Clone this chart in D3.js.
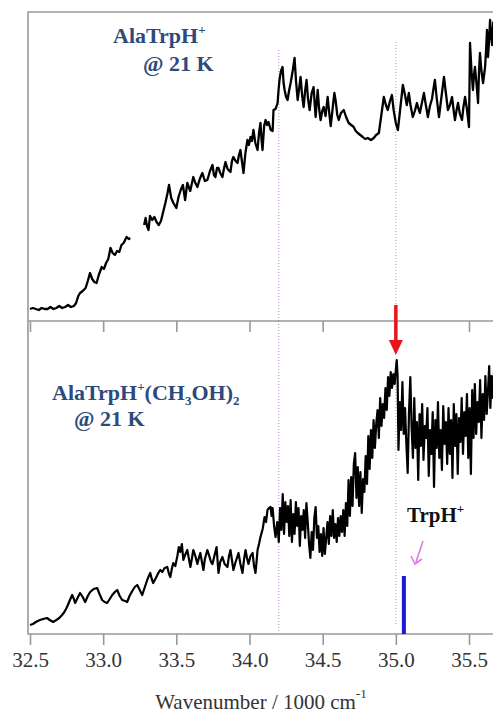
<!DOCTYPE html>
<html>
<head>
<meta charset="utf-8">
<script src="https://cdn.jsdelivr.net/npm/d3@7"></script>
<style>
  body { margin: 0; background: #fff; }
  svg { display: block; }
  text { font-family: "Liberation Serif", "Times New Roman", serif; }
</style>
</head>
<body>
<div id="wrapper"></div>
<script>
// tick labels (wavenumber / 1000 cm-1)
var tickValues = [32.5, 33.0, 33.5, 34.0, 34.5, 35.0, 35.5];
var markerLines = [34.2, 35.0];   // dotted guides
var redArrowAt = 35.0;
var trpBarAt = 35.055, trpBarHeight = 58;

// AlaTrpH+ @ 21 K  (arbitrary intensity units, null = gap in trace)
var topWn = [32.500,32.520,32.540,32.560,32.580,32.600,32.620,32.640,32.660,32.680,32.700,32.720,32.740,32.760,32.780,32.800,
  32.815,32.830,32.842,32.860,32.880,32.895,32.910,32.925,32.940,32.955,32.970,32.990,33.005,33.020,33.035,33.050,33.065,33.080,
  33.095,33.110,33.125,33.140,33.160,33.175,33.185,33.200,33.280,33.290,33.300,33.310,33.320,33.335,33.350,33.365,33.380,33.395,
  33.410,33.425,33.440,33.450,33.465,33.480,33.500,33.515,33.530,33.545,33.560,33.575,33.595,33.616,33.630,33.644,33.660,33.678,
  33.695,33.712,33.730,33.747,33.757,33.767,33.778,33.788,33.800,33.815,33.825,33.836,33.850,33.870,33.880,33.890,33.905,33.918,
  33.928,33.938,33.948,33.959,33.972,33.986,33.996,34.007,34.017,34.027,34.040,34.055,34.065,34.075,34.082,34.089,34.100,34.110,
  34.120,34.130,34.145,34.158,34.164,34.178,34.192,34.198,34.205,34.215,34.226,34.233,34.240,34.250,34.260,34.270,34.281,34.295,
  34.308,34.318,34.329,34.339,34.349,34.360,34.370,34.380,34.390,34.400,34.411,34.425,34.438,34.445,34.452,34.460,34.466,34.476,
  34.486,34.497,34.507,34.520,34.534,34.545,34.555,34.570,34.580,34.589,34.600,34.610,34.625,34.644,34.660,34.678,34.695,34.712,
  34.726,34.740,34.757,34.774,34.790,34.808,34.830,34.849,34.865,34.884,34.900,34.918,34.932,34.945,34.960,34.973,34.986,35.000,
  35.014,35.030,35.048,35.060,35.075,35.089,35.100,35.116,35.130,35.144,35.155,35.164,35.178,35.192,35.205,35.219,35.233,35.247,
  35.257,35.267,35.280,35.295,35.310,35.329,35.342,35.356,35.370,35.384,35.394,35.404,35.414,35.425,35.438,35.452,35.462,35.473,
  35.486,35.500,35.507,35.517,35.527,35.534,35.541,35.552,35.562,35.568,35.575,35.585,35.596,35.603,35.610,35.617,35.623,35.630,
  35.637,35.644,35.651,35.658,35.665,35.671];
var topInt = [12,13,12,11,13,12,12,14,12,13,15,13,14,16,14,15,
  18,25,28,30,33,40,48,42,39,38,46,54,52,58,62,73,68,66,
  70,69,76,78,84,82,83,null,96,103,95,91,105,101,104,99,96,100,
  109,118,128,136,123,118,113,124,131,136,121,138,130,144,138,134,142,148,
  140,141,150,156,146,144,153,153,148,144,152,159,152,149,160,164,160,158,
  166,171,160,148,168,181,176,184,180,191,178,171,188,198,182,171,195,201,
  196,199,191,190,211,212,218,230,241,250,254,238,231,224,221,230,238,250,
  263,240,221,232,244,225,214,230,241,222,211,228,234,218,204,220,231,212,
  201,210,214,205,224,208,195,215,228,220,206,201,208,211,204,198,196,194,
  190,188,186,184,182,183,181,183,186,188,205,224,216,211,220,226,210,198,
  191,212,236,228,216,228,216,204,210,218,212,208,218,228,216,204,215,222,
  232,241,222,204,222,244,228,211,216,224,212,201,210,218,207,201,214,224,
  212,194,278,250,231,246,254,236,218,248,268,250,238,246,254,272,291,264,
  280,301,285,276,298,300];

// AlaTrpH+(CH3OH)2 @ 21 K
var botWn = [32.500,32.520,32.540,32.568,32.590,32.616,32.635,32.658,32.680,32.700,32.719,32.735,32.753,32.770,32.788,32.800,
  32.808,32.825,32.842,32.860,32.877,32.895,32.911,32.935,32.959,32.975,32.993,33.010,33.027,33.045,33.062,33.080,33.096,33.113,
  33.130,33.150,33.164,33.180,33.199,33.216,33.233,33.250,33.267,33.285,33.301,33.312,33.322,33.332,33.342,33.360,33.377,33.390,
  33.404,33.420,33.438,33.450,33.459,33.469,33.479,33.493,33.507,33.517,33.527,33.538,33.548,33.560,33.575,33.585,33.596,33.606,
  33.616,33.630,33.644,33.654,33.664,33.675,33.685,33.695,33.712,33.725,33.737,33.747,33.760,33.775,33.788,33.800,33.815,33.830,
  33.849,33.860,33.870,33.880,33.890,33.905,33.925,33.938,33.952,33.963,33.973,33.983,33.993,34.007,34.021,34.031,34.041,34.048,
  34.055,34.065,34.075,34.090,34.103,34.113,34.123,34.134,34.144,34.151,34.158,34.168,34.178,34.190,
  34.200,34.209,34.218,34.227,34.236,34.245,34.254,34.263,34.272,34.281,34.290,34.299,34.308,34.317,34.326,34.335,34.344,34.353,
  34.362,34.371,34.380,34.389,34.398,34.407,34.416,34.425,34.434,34.443,34.452,34.461,34.470,34.479,34.488,34.497,34.506,34.515,
  34.524,34.533,34.542,34.551,34.560,34.569,34.578,34.587,34.596,34.605,34.614,34.623,34.632,34.641,
  34.650,34.659,34.668,34.677,34.686,34.695,34.704,34.713,34.722,34.731,34.740,34.749,34.758,34.767,34.776,34.785,34.794,34.803,
  34.812,34.821,34.830,34.839,34.848,34.857,34.866,34.875,34.884,34.893,34.902,34.911,34.920,34.929,34.938,34.947,34.956,34.965,
  34.974,34.983,34.992,35.000,35.006,35.012,35.018,35.027,35.036,35.045,35.054,35.063,35.072,35.081,35.090,35.099,35.108,35.117,
  35.126,35.135,35.144,35.153,35.162,35.171,35.180,35.189,35.198,35.207,35.216,35.225,35.234,35.243,35.252,35.261,35.270,35.279,
  35.288,35.297,35.306,35.315,35.324,35.333,35.342,35.351,35.360,35.369,35.378,35.387,35.396,35.405,35.414,35.423,35.432,35.441,
  35.450,35.459,35.468,35.477,35.486,35.495,35.504,35.513,35.522,35.531,35.540,35.549,35.558,35.567,35.576,35.585,35.594,35.603,
  35.612,35.621,35.630,35.638,35.646,35.654,35.662,35.671];
var botInt = [9,10,12,14,15,16,14,12,14,16,19,22,27,33,39,35,
  31,36,41,37,32,38,42,45,46,40,34,32,31,35,39,42,44,38,
  34,33,32,38,43,47,49,44,39,47,54,58,61,55,51,56,61,64,
  62,66,67,60,57,65,71,68,78,87,82,90,74,79,84,76,67,75,
  84,78,70,76,81,72,64,75,84,78,72,70,78,87,61,72,77,70,
  67,78,84,74,64,72,81,70,61,75,84,76,70,78,81,68,61,72,
  84,90,97,105,117,112,124,126,127,118,126,108,97,112,
  92,126,104,140,100,132,112,128,98,134,92,120,100,132,108,126,88,118,
  104,124,96,131,112,90,76,102,84,116,127,96,108,82,100,78,106,80,
  96,112,90,118,98,124,96,110,92,116,98,118,102,124,
  98,131,108,154,118,157,128,170,181,136,167,128,162,121,155,142,178,150,
  198,165,204,176,214,186,210,224,196,236,208,230,216,246,224,257,238,262,
  246,260,250,264,274,258,184,232,204,252,200,226,190,161,222,257,206,176,
  236,186,212,154,220,188,230,174,208,196,226,158,204,180,222,147,214,186,
  232,176,204,164,228,190,212,170,226,180,214,156,230,188,220,160,216,192,
  236,180,222,198,240,176,226,160,244,196,250,200,232,212,254,196,240,214,
  258,220,244,268,226,258,236,262];

var W = 493, H = 715;
var svg = d3.select("#wrapper").append("svg")
  .attr("width", W).attr("height", H);

var x = d3.scaleLinear().domain([32.5, 35.5]).range([30, 469]);
var yTop = d3.scaleLinear().domain([0, 309]).range([321, 12]);
var yBot = d3.scaleLinear().domain([0, 313]).range([634, 321]);

var frameColor = "#999";
var guideColor = "#cc88dd";
var labelColor = "#2d4a7a";

// dotted guide lines
markerLines.forEach(function(v, i) {
  svg.append("line")
    .attr("x1", x(v)).attr("x2", x(v))
    .attr("y1", i == 0 ? 50 : 42).attr("y2", 321)
    .attr("stroke", guideColor).attr("stroke-width", 1)
    .attr("stroke-dasharray", "1,2");
  svg.append("line")
    .attr("x1", x(v)).attr("x2", x(v))
    .attr("y1", i == 0 ? 321 : 362).attr("y2", i == 0 ? 634 : 624)
    .attr("stroke", guideColor).attr("stroke-width", 1)
    .attr("stroke-dasharray", "1,2");
});

// traces
var topData = topWn.map(function(d, i) { return [d, topInt[i]]; });
var botData = botWn.map(function(d, i) { return [d, botInt[i]]; });

var lineTop = d3.line()
  .defined(function(d) { return d[1] != null; })
  .x(function(d) { return x(d[0]); })
  .y(function(d) { return yTop(d[1]); });
var lineBot = d3.line()
  .x(function(d) { return x(d[0]); })
  .y(function(d) { return yBot(d[1]); });

svg.append("path").datum(topData)
  .attr("d", lineTop)
  .attr("fill", "none").attr("stroke", "#000")
  .attr("stroke-width", 2.3).attr("stroke-linejoin", "round");
svg.append("path").datum(botData)
  .attr("d", lineBot)
  .attr("fill", "none").attr("stroke", "#000")
  .attr("stroke-width", 2.2).attr("stroke-linejoin", "round");

// frames
svg.append("path")
  .attr("d", "M" + W + ",12H28V634H" + W + "M28,321H" + W)
  .attr("fill", "none").attr("stroke", frameColor).attr("stroke-width", 1.6);

// axes: tick-only axis under top panel, labelled axis under bottom panel
var axTop = svg.append("g").attr("transform", "translate(0,321)")
  .call(d3.axisBottom(x).tickValues(tickValues).tickSize(11).tickFormat(""));
var axBot = svg.append("g").attr("transform", "translate(0,634)")
  .call(d3.axisBottom(x).tickValues(tickValues).tickSize(11).tickPadding(7)
    .tickFormat(d3.format(".1f")));
[axTop, axBot].forEach(function(a) {
  a.attr("font-family", null).attr("font-size", null);
  a.select(".domain").remove();
  a.selectAll(".tick line").attr("stroke", frameColor).attr("stroke-width", 1.6);
});
axBot.selectAll(".tick text")
  .attr("fill", "#333")
  .style("font-family", "'Liberation Serif', serif")
  .style("font-size", "21px");

// axis title
var title = svg.append("text")
  .attr("x", 261).attr("y", 709)
  .attr("text-anchor", "middle")
  .attr("fill", "#333")
  .style("font-size", "21px");
title.append("tspan").text("Wavenumber / 1000 cm");
title.append("tspan").attr("dy", -11).style("font-size", "13px").text("-1");

// red arrow at 35.0
svg.append("line")
  .attr("x1", x(redArrowAt)).attr("x2", x(redArrowAt))
  .attr("y1", 305).attr("y2", 342)
  .attr("stroke", "#e8141c").attr("stroke-width", 3.5);
svg.append("path")
  .attr("d", "M" + (x(redArrowAt) - 7) + ",340L" + (x(redArrowAt) + 7) + ",340L" + x(redArrowAt) + ",355Z")
  .attr("fill", "#e8141c");

// TrpH+ reference stick
svg.append("rect")
  .attr("x", x(trpBarAt) - 2).attr("y", yBot(trpBarHeight))
  .attr("width", 4).attr("height", yBot(0) - yBot(trpBarHeight))
  .attr("fill", "#1a1ad8");

// pink arrow
svg.append("line")
  .attr("x1", 423).attr("y1", 541).attr("x2", 416).attr("y2", 562)
  .attr("stroke", "#e07ae0").attr("stroke-width", 1.6);
svg.append("path")
  .attr("d", "M411,556L415,564L422,559")
  .attr("fill", "none").attr("stroke", "#e07ae0").attr("stroke-width", 1.6);

var trp = svg.append("text").attr("x", 407).attr("y", 522)
  .attr("fill", "#111").style("font-size", "21px").style("font-weight", "bold");
trp.append("tspan").text("TrpH");
trp.append("tspan").attr("dy", -9).style("font-size", "13px").text("+");

// panel labels
var l1 = svg.append("text").attr("x", 113).attr("y", 43)
  .attr("fill", labelColor).style("font-size", "22px").style("font-weight", "bold");
l1.append("tspan").text("AlaTrpH");
l1.append("tspan").attr("dy", -9).style("font-size", "13px").text("+");
svg.append("text").attr("x", 143).attr("y", 71)
  .attr("fill", labelColor).style("font-size", "22px").style("font-weight", "bold")
  .text("@ 21 K");

var l2 = svg.append("text").attr("x", 52).attr("y", 400)
  .attr("fill", labelColor).style("font-size", "22px").style("font-weight", "bold");
l2.append("tspan").text("AlaTrpH");
l2.append("tspan").attr("dy", -9).style("font-size", "13px").text("+");
l2.append("tspan").attr("dy", 9).text("(CH");
l2.append("tspan").attr("dy", 5).style("font-size", "13px").text("3");
l2.append("tspan").attr("dy", -5).text("OH)");
l2.append("tspan").attr("dy", 5).style("font-size", "13px").text("2");
svg.append("text").attr("x", 74).attr("y", 426)
  .attr("fill", labelColor).style("font-size", "22px").style("font-weight", "bold")
  .text("@ 21 K");
</script>
</body>
</html>
